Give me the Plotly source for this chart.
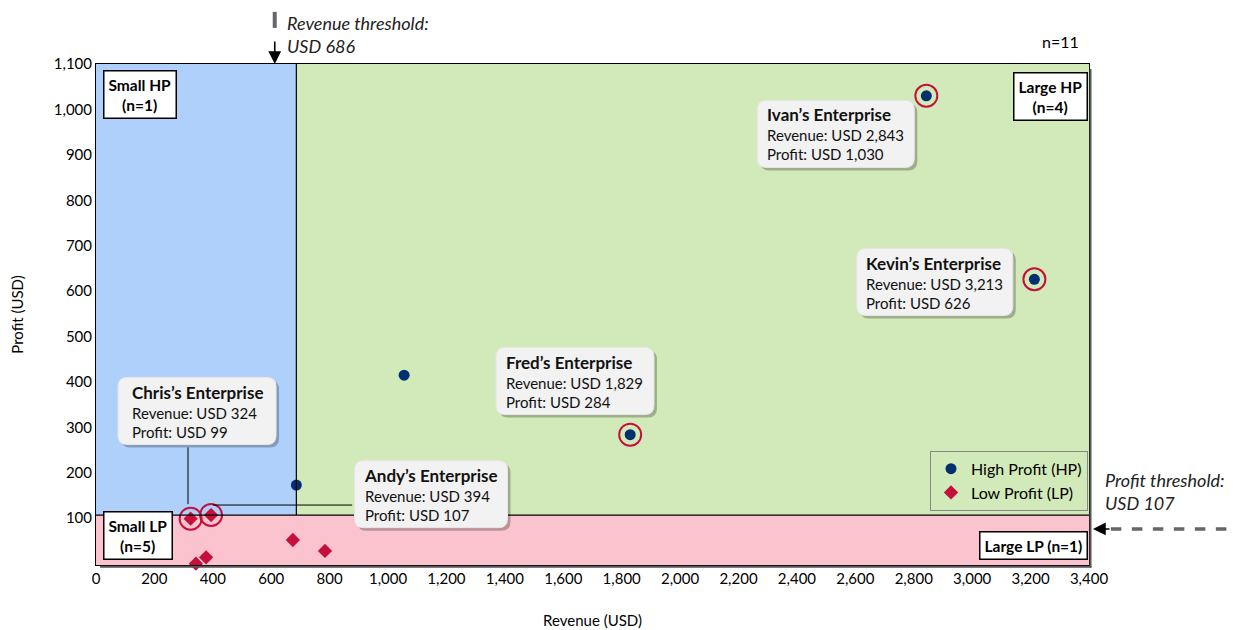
import plotly.graph_objects as go

# enterprises, split by profit class
hp_revenue = [2843, 3213, 1829, 1055, 686]
hp_profit = [1030, 626, 284, 415, 173]
lp_revenue = [324, 394, 674, 784, 377, 342]
lp_profit = [99, 107, 52, 28, 14, 0]

# highlighted enterprises with call-outs
names = ["Ivan", "Kevin", "Fred", "Chris", "Andy"]
hl_revenue = [2843, 3213, 1829, 324, 394]
hl_profit = [1030, 626, 284, 99, 107]
box_x = [2533, 2872, 1640, 346, 1147]
box_y = [946, 620, 402, 336, 153]
box_w = [157, 156, 158, 158, 153]

rev_threshold = 686
profit_threshold = 107
x_max = 3400
y_max = 1100

x_ticks = list(range(0, 3401, 200))
y_ticks = list(range(100, 1101, 100))

FONT = "Lato"
NAVY = "#003070"
CRIMSON = "#c4103a"


def rounded(w, h, r, dx=0, dy=0):
    x0, x1 = -w / 2 + dx, w / 2 + dx
    y0, y1 = -h / 2 + dy, h / 2 + dy
    return (f"M {x0+r},{y0} L {x1-r},{y0} Q {x1},{y0} {x1},{y0+r} "
            f"L {x1},{y1-r} Q {x1},{y1} {x1-r},{y1} L {x0+r},{y1} "
            f"Q {x0},{y1} {x0},{y1-r} L {x0},{y0+r} Q {x0},{y0} {x0+r},{y0} Z")


fig = go.Figure()

fig.add_trace(go.Scatter(
    x=hp_revenue, y=hp_profit, mode="markers", name="High Profit (HP)",
    marker=dict(symbol="circle", size=11, color=NAVY), cliponaxis=False,
))
fig.add_trace(go.Scatter(
    x=lp_revenue, y=lp_profit, mode="markers", name="Low Profit (LP)",
    marker=dict(symbol="diamond", size=11, color=CRIMSON), cliponaxis=False,
))
fig.add_trace(go.Scatter(
    x=hl_revenue, y=hl_profit, mode="markers", showlegend=False, hoverinfo="skip",
    marker=dict(symbol="circle-open", size=22, color=CRIMSON, line=dict(width=2)),
    cliponaxis=False,
))

# quadrant backgrounds
quads = [
    (0, rev_threshold, profit_threshold, y_max, "#afd0fb"),
    (rev_threshold, x_max, profit_threshold, y_max, "#d2eab9"),
    (0, x_max, -3, profit_threshold, "#fac3cd"),
]
for x0, x1, y0, y1, c in quads:
    fig.add_shape(type="rect", x0=x0, x1=x1, y0=y0, y1=y1, xref="x", yref="y",
                  fillcolor=c, line=dict(width=0), layer="below")
fig.add_shape(type="line", x0=rev_threshold, x1=rev_threshold, y0=profit_threshold, y1=y_max,
              line=dict(color="black", width=1.2))
fig.add_shape(type="line", x0=0, x1=x_max, y0=profit_threshold, y1=profit_threshold,
              line=dict(color="black", width=1.2))

# frame shadow
fig.add_shape(type="line", xref="paper", yref="paper", x0=1.0015, x1=1.0015, y0=-0.005, y1=0.99,
              line=dict(color="#555", width=2))
fig.add_shape(type="line", xref="paper", yref="paper", x0=0.004, x1=1.0025, y0=-0.0035, y1=-0.0035,
              line=dict(color="#555", width=2))

# leader lines
fig.add_shape(type="line", x0=315, x1=315, y0=131, y1=256, line=dict(color="black", width=1))
fig.add_shape(type="line", x0=400, x1=877, y0=129, y1=129, line=dict(color="black", width=1))

# call-outs
for n, r, p, bx, by, w in zip(names, hl_revenue, hl_profit, box_x, box_y, box_w):
    fig.add_shape(type="path", xref="x", yref="y", xsizemode="pixel", ysizemode="pixel",
                  xanchor=bx, yanchor=by, path=rounded(w, 67, 9, 3, -3),
                  fillcolor="rgba(0,0,0,0.25)", line=dict(width=0))
    fig.add_shape(type="path", xref="x", yref="y", xsizemode="pixel", ysizemode="pixel",
                  xanchor=bx, yanchor=by, path=rounded(w, 67, 9),
                  fillcolor="#f2f2f2", line=dict(color="#e6e6e6", width=1))
    txt = (f"<span style='font-size:17px'><b>{n}’s Enterprise</b></span><br>"
           f"Revenue: USD {r:,}<br>Profit: USD {p:,}")
    fig.add_annotation(x=bx, y=by, text=txt, showarrow=False, align="left",
                       font=dict(family=FONT, size=15, color="#111"))

# quadrant labels
labels = [
    ("Small HP<br>(n=1)", 0.007, 0.988, "left", "top"),
    ("Large HP<br>(n=4)", 0.999, 0.984, "right", "top"),
    ("Small LP<br>(n=5)", 0.007, 0.01, "left", "bottom"),
    ("Large LP (n=1)", 0.999, 0.01, "right", "bottom"),
]
for t, x, y, xa, ya in labels:
    fig.add_annotation(x=x, y=y, xref="paper", yref="paper", xanchor=xa, yanchor=ya,
                       text=f"<b>{t}</b>", showarrow=False,
                       font=dict(family=FONT, size=15.5, color="black"),
                       bgcolor="white", bordercolor="black", borderwidth=1.5, borderpad=4)

fig.add_annotation(x=0.992, y=1.022, xref="paper", yref="paper", xanchor="right", yanchor="bottom",
                   text="n=11", showarrow=False, font=dict(family=FONT, size=16, color="black"))

# revenue threshold note
fig.add_shape(type="line", xref="paper", yref="paper", x0=0.18, x1=0.18, y0=1.072, y1=1.104,
              line=dict(color="#666", width=4))
fig.add_annotation(x=0.18, y=1.0, xref="paper", yref="paper", ax=0, ay=-24, text="",
                   showarrow=True, arrowhead=2, arrowsize=1.6, arrowwidth=1.6, arrowcolor="black")
fig.add_annotation(x=0.19, y=1.107, xref="paper", yref="paper", xanchor="left", yanchor="top",
                   text="<i>Revenue threshold:<br>USD 686</i>", showarrow=False, align="left",
                   font=dict(family=FONT, size=18, color="#222"))

# profit threshold note
fig.add_shape(type="line", xref="paper", yref="paper", x0=1.022, x1=1.148, y0=0.072, y1=0.072,
              line=dict(color="#666", width=3.5, dash="dash"))
fig.add_annotation(x=1.004, y=0.072, xref="paper", yref="paper", ax=18, ay=0, text="",
                   showarrow=True, arrowhead=2, arrowsize=1.6, arrowwidth=1.6, arrowcolor="black")
fig.add_annotation(x=1.014, y=0.146, xref="paper", yref="paper", xanchor="left", yanchor="middle",
                   text="<i>Profit threshold:<br>USD 107</i>", showarrow=False, align="left",
                   font=dict(family=FONT, size=18, color="#222"))

# page body has an 8px margin, so the figure is shrunk by that much
fig.update_layout(
    width=1231, height=622,
    margin=dict(l=88, r=150, t=56, b=65),
    plot_bgcolor="white", paper_bgcolor="white",
    font=dict(family=FONT, size=14, color="black"),
    legend=dict(x=0.999, y=0.228, xanchor="right", yanchor="top",
                bgcolor="#d2eab9", bordercolor="#888", borderwidth=1,
                font=dict(family=FONT, size=16)),
)
fig.update_xaxes(range=[0, x_max], tickvals=x_ticks, tickformat=",", showgrid=False,
                 zeroline=False, showline=True, linecolor="black", linewidth=1, mirror=True,
                 automargin=False,
                 title=dict(text="Revenue (USD)", font=dict(size=15), standoff=29),
                 tickfont=dict(size=15))
fig.update_yaxes(range=[-3, y_max], tickvals=y_ticks, tickformat=",", showgrid=False,
                 zeroline=False, showline=True, linecolor="black", linewidth=1, mirror=True,
                 automargin=False,
                 title=dict(text="Profit (USD)", font=dict(size=15), standoff=26),
                 tickfont=dict(size=15))

fig.write_html("out.html")
